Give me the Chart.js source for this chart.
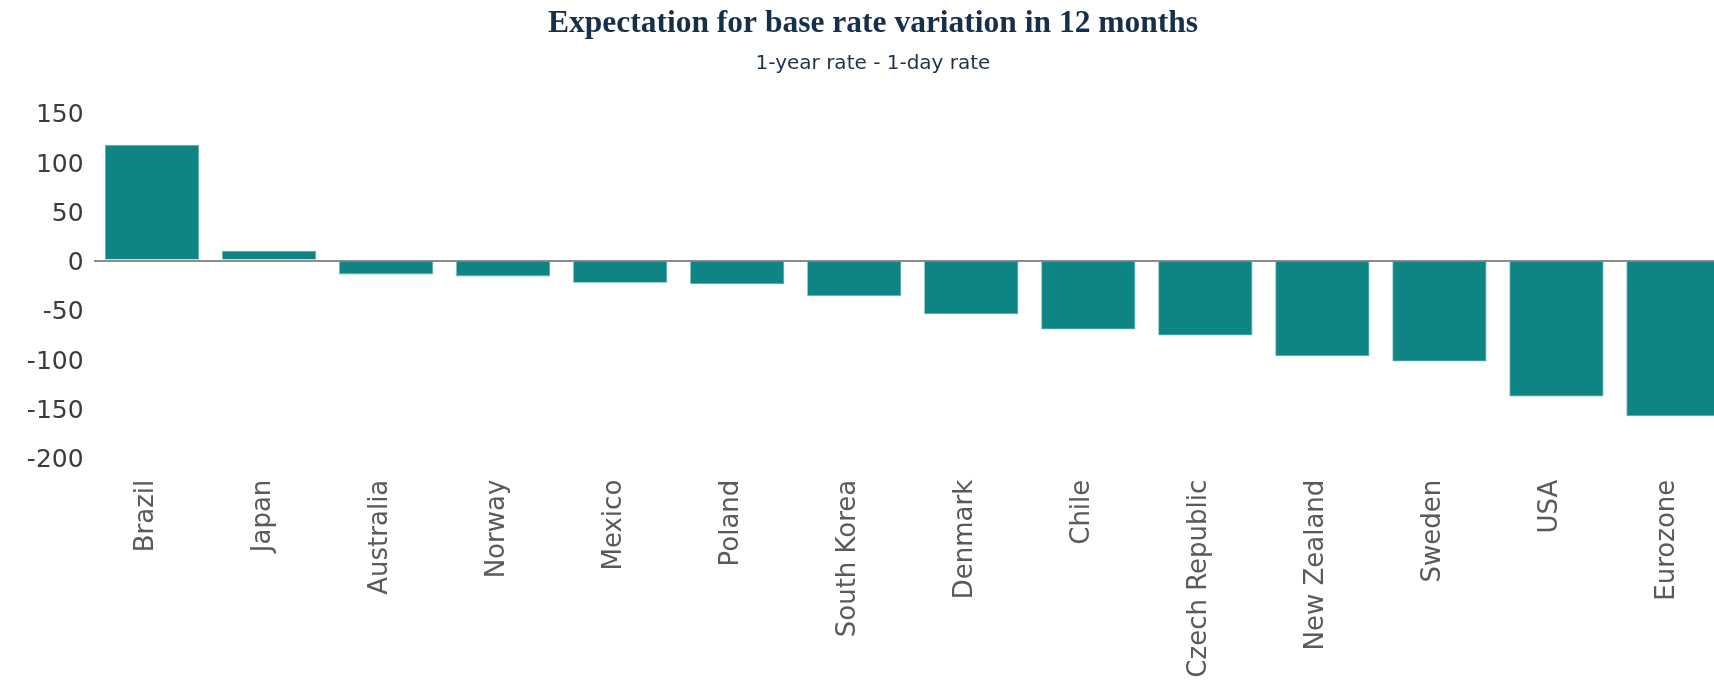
<!DOCTYPE html>
<html>
<head>
<meta charset="utf-8">
<script src="https://cdn.jsdelivr.net/npm/chart.js@4/dist/chart.umd.min.js"></script>
<style>
  html, body { margin: 0; padding: 0; background: #ffffff; overflow: hidden; }
  #wrap { width: 1714px; height: 682px; overflow: hidden; position: relative; }
  canvas { display: block; }
</style>
</head>
<body>
<div id="wrap"><canvas id="c" width="1732" height="682"></canvas></div>
<script>
const categories = ["Brazil", "Japan", "Australia", "Norway", "Mexico", "Poland", "South Korea", "Denmark", "Chile", "Czech Republic", "New Zealand", "Sweden", "USA", "Eurozone"];
const values = [117.5, 10, -14, -16, -22.5, -24, -36, -54.5, -70, -76, -97, -102.5, -138, -158];
const titleText = "Expectation for base rate variation in 12 months";
const subtitleText = "1-year rate - 1-day rate";
const yMin = -200, yMax = 150, yStep = 50;

new Chart(document.getElementById('c'), {
  type: 'bar',
  data: {
    labels: categories,
    datasets: [{
      data: values,
      backgroundColor: '#0e8484',
      borderColor: '#5fb0b0',
      borderWidth: 0.8,
      barPercentage: 0.805,
      categoryPercentage: 1.0
    }]
  },
  options: {
    responsive: false,
    devicePixelRatio: 1,
    animation: false,
    layout: { padding: { left: 14, right: 0, top: 0, bottom: 0 } },
    plugins: {
      legend: { display: false },
      tooltip: { enabled: false },
      title: {
        display: true,
        text: titleText,
        color: '#16304a',
        font: { family: 'Liberation Serif', size: 31.5, weight: 'bold' },
        padding: { top: 5, bottom: 0 }
      },
      subtitle: {
        display: true,
        text: subtitleText,
        color: '#1e3347',
        font: { family: 'DejaVu Sans', size: 20, weight: 'normal' },
        padding: { top: 9, bottom: 37 }
      }
    },
    scales: {
      x: {
        grid: { display: false },
        border: { display: false },
        ticks: {
          color: '#5a5a5a',
          font: { family: 'DejaVu Sans', size: 26 },
          minRotation: 90,
          maxRotation: 90,
          autoSkip: false,
          padding: 14,
          labelOffset: -6
        },
        afterFit: (s) => { s.height = 224.3; }
      },
      y: {
        min: yMin,
        max: yMax,
        border: { display: false },
        grid: {
          drawTicks: false,
          color: (ctx) => (ctx.tick && ctx.tick.value === 0) ? '#8c8c8c' : 'rgba(0,0,0,0)',
          lineWidth: (ctx) => (ctx.tick && ctx.tick.value === 0) ? 2 : 0
        },
        ticks: {
          stepSize: yStep,
          color: '#3c3c3c',
          font: { family: 'DejaVu Sans', size: 25 },
          padding: 10,
          labelOffset: 3
        },
        afterFit: (s) => { s.width = 79.6; }
      }
    }
  }
});
</script>
</body>
</html>
